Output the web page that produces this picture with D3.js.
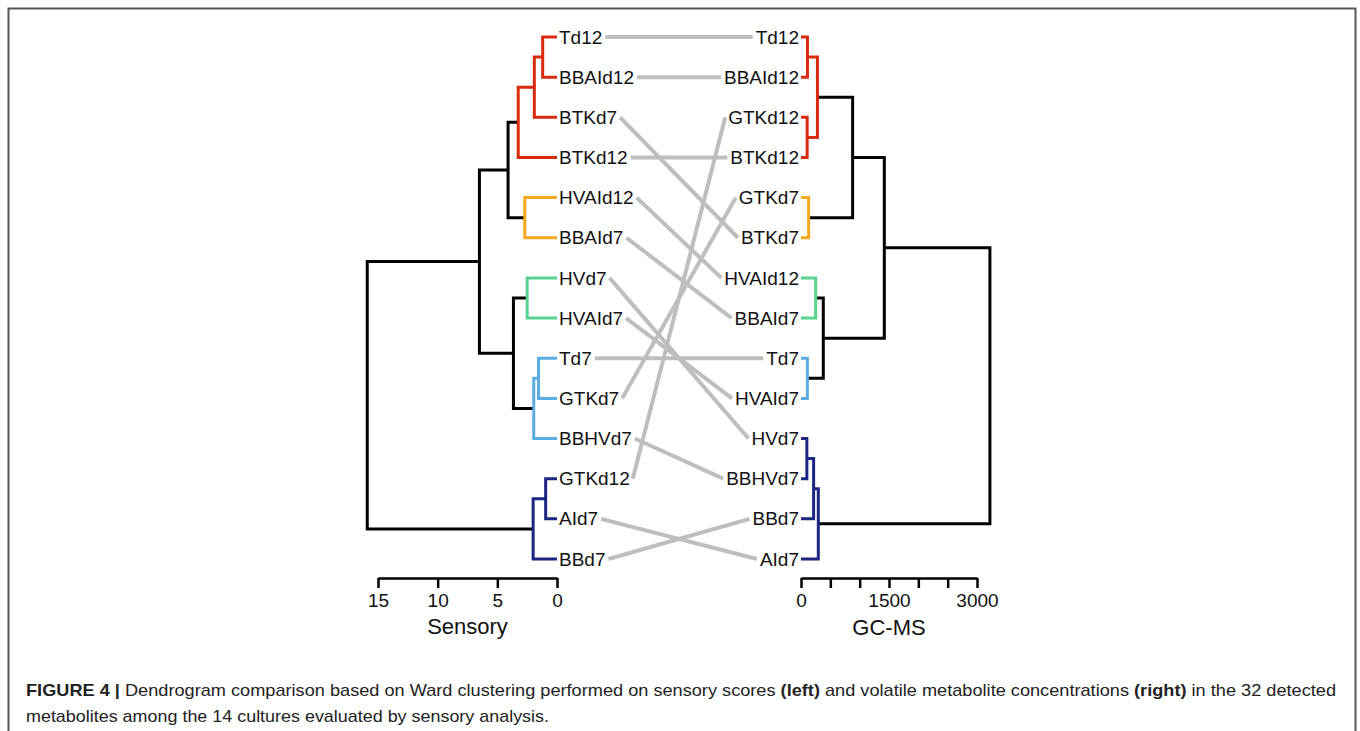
<!DOCTYPE html>
<html>
<head>
<meta charset="utf-8">
<script src="https://cdn.jsdelivr.net/npm/d3@7"></script>
<style>
  body { margin: 0; background: #fff; }
  svg { display: block; font-family: "Liberation Sans", Arial, sans-serif; }
</style>
</head>
<body>
<svg width="1360" height="731"></svg>
<script>
// left tree: sensory scores, Ward clustering
const sensoryLeaves = ["Td12", "BBAId12", "BTKd7", "BTKd12", "HVAId12", "BBAId7", "HVd7",
  "HVAId7", "Td7", "GTKd7", "BBHVd7", "GTKd12", "AId7", "BBd7"];
// [a, b, height] like R hclust merge: negative = leaf (1-based), positive = earlier merge row
const sensoryMerges = [
  [-1, -2, 1.2], [1, -3, 1.9], [2, -4, 3.25], [-5, -6, 2.7], [3, 4, 4.1],
  [-7, -8, 2.5], [-9, -10, 1.55], [7, -11, 1.95], [6, 8, 3.65], [5, 9, 6.5],
  [-12, -13, 0.95], [11, -14, 2.0], [10, 12, 15.9]
];
const sensoryClusters = [0, 0, 0, 0, 1, 1, 2, 2, 3, 3, 3, 4, 4, 4];

// right tree: GC-MS volatile metabolite concentrations
const gcmsLeaves = ["Td12", "BBAId12", "GTKd12", "BTKd12", "GTKd7", "BTKd7", "HVAId12",
  "BBAId7", "Td7", "HVAId7", "HVd7", "BBHVd7", "BBd7", "AId7"];
const gcmsMerges = [
  [-1, -2, 110], [-3, -4, 105], [1, 2, 280], [-5, -6, 130], [3, 4, 880],
  [-7, -8, 250], [-9, -10, 108], [6, 7, 380], [5, 8, 1420],
  [-11, -12, 100], [10, -13, 215], [11, -14, 295], [9, 12, 3220]
];
const gcmsClusters = [0, 0, 0, 0, 1, 1, 2, 2, 3, 3, 4, 4, 4, 4];

const clusterColors = ["#da2a0e", "#f4a81d", "#55d38f", "#5aace2", "#1c2580"];

const sensoryTicks = [15, 10, 5, 0];
const gcmsTicks = [0, 500, 1000, 1500, 2000, 2500, 3000];
const gcmsTickLabels = [0, 1500, 3000];

const svg = d3.select("svg");

// figure frame
svg.append("rect")
  .attr("x", 8.5).attr("y", 8.5)
  .attr("width", 1347).attr("height", 760)
  .attr("fill", "none").attr("stroke", "#555").attr("stroke-width", 2);

function buildTree(leaves, merges, clusters) {
  const nodes = [];
  function get(i) {
    if (i < 0) return { name: leaves[-i - 1], h: 0, cluster: clusters[-i - 1] };
    return nodes[i - 1];
  }
  merges.forEach(m => {
    const a = get(m[0]), b = get(m[1]);
    nodes.push({ h: m[2], children: [a, b], cluster: a.cluster === b.cluster ? a.cluster : null });
  });
  return d3.hierarchy(nodes[nodes.length - 1]);
}

const yLeaf = d3.scalePoint().domain(d3.range(14)).range([37, 559]);

const xSens = d3.scaleLinear().domain([15, 0]).range([378, 557]);
const xGc = d3.scaleLinear().domain([0, 3000]).range([801, 977]);

function layout(root, leaves) {
  root.eachAfter(n => {
    if (!n.children) n.y = yLeaf(leaves.indexOf(n.data.name));
    else n.y = (n.children[0].y + n.children[1].y) / 2;
  });
}

function drawTree(root, xs) {
  const g = svg.append("g");
  root.each(n => {
    if (!n.children) return;
    const c0 = n.children[0], c1 = n.children[1];
    const color = n.data.cluster === null ? "#000" : clusterColors[n.data.cluster];
    g.append("path")
      .attr("d", "M" + xs(c0.data.h) + "," + c0.y + "H" + xs(n.data.h) + "V" + c1.y + "H" + xs(c1.data.h))
      .attr("fill", "none")
      .attr("stroke", color)
      .attr("stroke-width", 3);
  });
}

const sensRoot = buildTree(sensoryLeaves, sensoryMerges, sensoryClusters);
const gcRoot = buildTree(gcmsLeaves, gcmsMerges, gcmsClusters);
layout(sensRoot, sensoryLeaves);
layout(gcRoot, gcmsLeaves);

const linkLayer = svg.append("g");
drawTree(sensRoot, xSens);
drawTree(gcRoot, xGc);

// leaf labels
const leftEnd = {}, rightStart = {};
svg.append("g").selectAll("text")
  .data(sensoryLeaves).enter().append("text")
  .attr("x", xSens(0) + 2)
  .attr("y", (d, i) => yLeaf(i))
  .attr("dy", "0.35em")
  .attr("font-size", 19)
  .attr("fill", "#111")
  .text(d => d)
  .each(function (d) { leftEnd[d] = xSens(0) + 2 + this.getComputedTextLength(); });

svg.append("g").selectAll("text")
  .data(gcmsLeaves).enter().append("text")
  .attr("x", xGc(0) - 2)
  .attr("y", (d, i) => yLeaf(i))
  .attr("dy", "0.35em")
  .attr("text-anchor", "end")
  .attr("font-size", 19)
  .attr("fill", "#111")
  .text(d => d)
  .each(function (d) { rightStart[d] = xGc(0) - 2 - this.getComputedTextLength(); });

// connecting lines between the two trees
linkLayer.selectAll("line")
  .data(sensoryLeaves).enter().append("line")
  .attr("x1", d => leftEnd[d] + 3)
  .attr("y1", (d, i) => yLeaf(i))
  .attr("x2", d => rightStart[d] - 3)
  .attr("y2", d => yLeaf(gcmsLeaves.indexOf(d)))
  .attr("stroke", "#bebebe")
  .attr("stroke-width", 4);

// axes
function styleAxis(g) {
  g.select(".domain").attr("stroke", "#000").attr("stroke-width", 2.5);
  g.selectAll(".tick line").attr("stroke", "#000").attr("stroke-width", 2.5);
  g.selectAll(".tick text").attr("font-size", 19).attr("fill", "#111")
    .attr("font-family", "Liberation Sans, Arial, sans-serif");
}

svg.append("g")
  .attr("transform", "translate(0,578)")
  .call(d3.axisBottom(xSens).tickValues(sensoryTicks).tickSize(10).tickSizeOuter(0).tickPadding(6))
  .call(styleAxis);

svg.append("g")
  .attr("transform", "translate(0,578)")
  .call(d3.axisBottom(xGc).tickValues(gcmsTicks).tickSize(10).tickSizeOuter(0).tickPadding(6)
    .tickFormat(d => gcmsTickLabels.includes(d) ? d : ""))
  .call(styleAxis);

svg.append("text")
  .attr("x", (xSens(15) + xSens(0)) / 2).attr("y", 634)
  .attr("text-anchor", "middle").attr("font-size", 22).attr("fill", "#111")
  .text("Sensory");

svg.append("text")
  .attr("x", (xGc(0) + xGc(3000)) / 2).attr("y", 635)
  .attr("text-anchor", "middle").attr("font-size", 22).attr("fill", "#111")
  .text("GC-MS");

// caption
const cap = svg.append("g")
  .attr("font-family", "'Liberation Sans Narrow', 'Liberation Sans', Arial, sans-serif")
  .attr("font-size", 17).attr("fill", "#222");

const line1 = cap.append("text").attr("x", 26).attr("y", 696)
  .attr("textLength", 1310).attr("lengthAdjust", "spacingAndGlyphs");
line1.append("tspan").attr("font-weight", "bold").text("FIGURE 4 | ");
line1.append("tspan").text("Dendrogram comparison based on Ward clustering performed on sensory scores ");
line1.append("tspan").attr("font-weight", "bold").text("(left)");
line1.append("tspan").text(" and volatile metabolite concentrations ");
line1.append("tspan").attr("font-weight", "bold").text("(right)");
line1.append("tspan").text(" in the 32 detected");

cap.append("text").attr("x", 26).attr("y", 722)
  .attr("textLength", 523).attr("lengthAdjust", "spacingAndGlyphs")
  .text("metabolites among the 14 cultures evaluated by sensory analysis.");
</script>
</body>
</html>
